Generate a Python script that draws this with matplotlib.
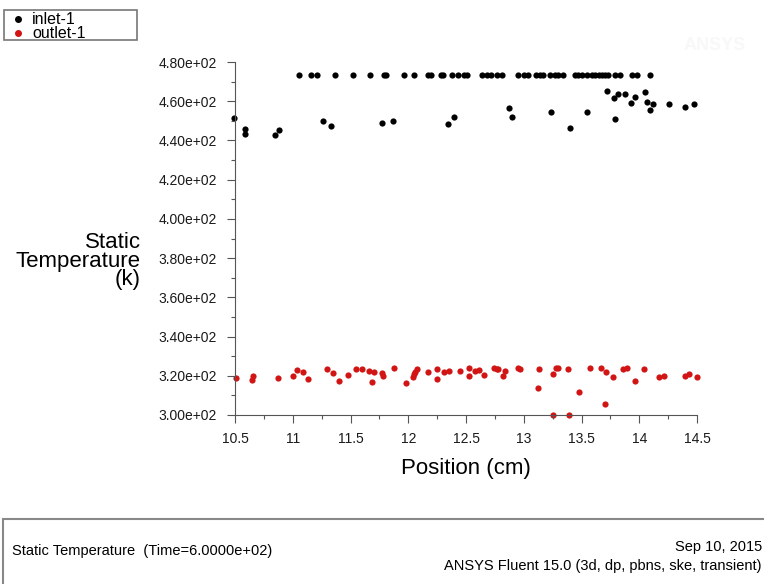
import matplotlib
matplotlib.use("Agg")
import matplotlib.pyplot as plt
from matplotlib.lines import Line2D
from matplotlib.patches import Rectangle
from matplotlib.ticker import FormatStrFormatter, MultipleLocator

plt.rcParams['font.family'] = ['Liberation Sans', 'DejaVu Sans']

# inlet-1: upper band of points (position cm, temperature K)
inlet_pos = [11.05, 11.16, 11.21, 11.37, 11.52, 11.67, 11.79, 11.81, 11.96, 12.05,
             12.17, 12.20, 12.28, 12.30, 12.38, 12.43, 12.48, 12.51, 12.64, 12.68,
             12.72, 12.77, 12.81, 12.95, 13.00, 13.04, 13.11, 13.14, 13.17, 13.23,
             13.27, 13.30, 13.34, 13.44, 13.47, 13.50, 13.55, 13.59, 13.62, 13.65,
             13.68, 13.70, 13.73, 13.79, 13.83, 13.94, 13.98, 14.09,
             10.49, 10.59, 10.59, 10.85, 10.88, 11.26, 11.33, 11.77, 11.87, 12.34,
             12.40, 12.87, 12.90, 13.24, 13.40, 13.55, 13.72, 13.78, 13.82, 13.79,
             13.88, 13.93, 13.96, 14.05, 14.07, 14.09, 14.12, 14.26, 14.40, 14.47]
inlet_temp = [473.2] * 48 + \
             [451.2, 445.8, 443.1, 442.7, 445.3, 449.8, 447.3, 448.8, 449.8, 448.2,
              451.9, 456.3, 452.1, 454.3, 446.1, 454.3, 465.3, 461.4, 463.6, 450.9,
              463.5, 458.9, 461.9, 464.5, 459.7, 455.5, 458.4, 458.5, 456.8, 458.4]

# outlet-1: lower band
outlet_pos = [10.51, 10.66, 10.65, 10.875, 11.00, 11.04, 11.09, 11.13, 11.30, 11.35,
              11.40, 11.48, 11.55, 11.60, 11.66, 11.70, 11.69, 11.77, 11.78, 11.88,
              11.98, 12.04, 12.06, 12.08, 12.05, 12.17, 12.25, 12.25, 12.31, 12.35,
              12.45, 12.53, 12.53, 12.58, 12.61, 12.66, 12.74, 12.77, 12.78, 12.84,
              12.82, 12.95, 12.97, 13.13, 13.12, 13.25, 13.28, 13.30, 13.25, 13.38,
              13.39, 13.48, 13.57, 13.67, 13.71, 13.70, 13.77, 13.86, 13.89, 13.96,
              14.04, 14.17, 14.21, 14.40, 14.43, 14.50]
outlet_temp = [318.7, 320.0, 317.8, 318.7, 320.0, 322.9, 322.1, 318.3, 323.3, 321.3,
               317.5, 320.4, 323.3, 323.3, 322.6, 321.8, 316.7, 321.3, 320.0, 323.8,
               316.2, 319.5, 321.8, 323.4, 320.7, 322.1, 323.3, 318.3, 321.8, 322.4,
               322.6, 323.8, 320.0, 322.4, 322.9, 320.4, 323.8, 323.4, 323.4, 322.6,
               320.0, 323.8, 323.3, 323.4, 313.6, 320.7, 323.8, 323.8, 300.0, 323.3,
               300.0, 311.6, 323.8, 323.8, 321.8, 305.6, 319.2, 323.4, 323.8, 317.5,
               323.3, 319.5, 320.0, 320.0, 320.9, 319.5]

series_names = ['inlet-1', 'outlet-1']
series_colors = ['black', '#d11414']

W, H = 764, 584
fig = plt.figure(figsize=(W / 100, H / 100), dpi=100)
ax = fig.add_axes([235 / W, 1 - 415 / H, 462 / W, 353 / H])

ax.scatter(inlet_pos, inlet_temp, s=20, color=series_colors[0], linewidths=0,
           clip_on=False)
ax.scatter(outlet_pos, outlet_temp, s=20, color=series_colors[1], linewidths=0,
           clip_on=False)

ax.set_xlim(10.5, 14.5)
ax.set_ylim(300, 480)
ax.xaxis.set_major_locator(MultipleLocator(0.5))
ax.xaxis.set_minor_locator(MultipleLocator(0.25))
ax.yaxis.set_major_locator(MultipleLocator(20))
ax.yaxis.set_minor_locator(MultipleLocator(10))
ax.xaxis.set_major_formatter(FormatStrFormatter('%g'))
ax.yaxis.set_major_formatter(FormatStrFormatter('%.2e'))
for s in ['top', 'right']:
    ax.spines[s].set_visible(False)
for s in ['left', 'bottom']:
    ax.spines[s].set_color('#555555')
ax.tick_params(which='major', length=6, width=0.8, color='#555555',
               labelsize=10, labelcolor='#1a1a1a')
ax.tick_params(axis='x', which='major', pad=6)
ax.tick_params(axis='y', which='major', pad=7)
ax.tick_params(which='minor', length=3, width=0.8, color='#555555')

ax.set_xlabel('Position (cm)', fontsize=16, labelpad=9)
fig.text(141 / W, 1 - 261 / H, 'Static\nTemperature\n(k)', fontsize=16,
         ha='right', va='center', multialignment='right', linespacing=0.85)

# legend box top-left
fig.patches.append(Rectangle((4 / W, 1 - 40 / H), 133 / W, 30 / H,
                             transform=fig.transFigure, fill=False,
                             edgecolor='#777777', linewidth=1.2))
for i, (name, col) in enumerate(zip(series_names, series_colors)):
    yy = 1 - (18 + 14 * i) / H
    fig.lines.append(Line2D([18 / W], [yy - 1 / H], transform=fig.transFigure,
                            marker='o', markersize=4, color=col, linestyle=''))
    fig.text(32 / W, yy - 1.5 / H, name, fontsize=11.5, ha='left', va='center')

# faint watermark
fig.text(715 / W, 1 - 45 / H, 'ANSYS', fontsize=13, color='#f8f8f8',
         ha='center', va='center', fontweight='bold')

# footer box
fig.patches.append(Rectangle((3 / W, -0.05), 1.0, (584 - 519) / H + 0.05,
                             transform=fig.transFigure, fill=False,
                             edgecolor='#888888', linewidth=1.5))
fig.text(12 / W, 1 - 551 / H, 'Static Temperature  (Time=6.0000e+02)',
         fontsize=10.5, ha='left', va='center')
fig.text(762 / W, 1 - 547 / H, 'Sep 10, 2015', fontsize=10.5,
         ha='right', va='center')
fig.text(762 / W, 1 - 566 / H, 'ANSYS Fluent 15.0 (3d, dp, pbns, ske, transient)',
         fontsize=10.5, ha='right', va='center')

fig.savefig('out.png', dpi=100)
